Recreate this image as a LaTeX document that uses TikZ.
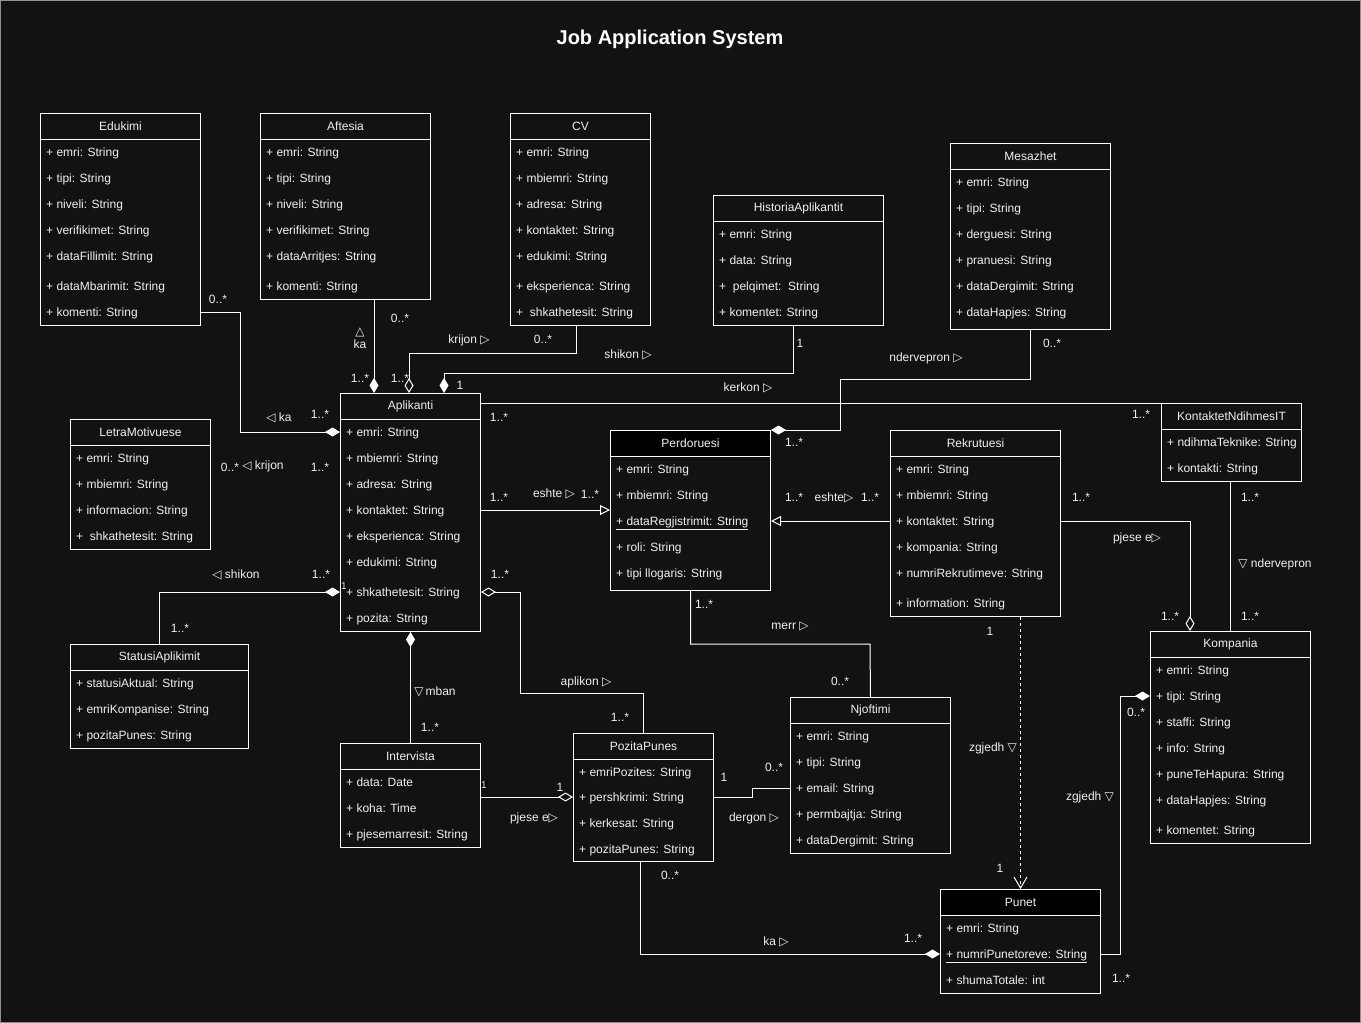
\documentclass[tikz,border=0pt]{standalone}
\usepackage{fontspec}
\setmainfont{Liberation Sans}
\newfontfamily\dejavu{DejaVu Sans}
\usetikzlibrary{arrows.meta}
\definecolor{bg}{HTML}{121212}
\definecolor{fg}{HTML}{F0F0F0}
\definecolor{frame}{HTML}{909090}
\newcommand{\TriR}{{\dejavu ▷}}
\newcommand{\TriL}{{\dejavu ◁}}
\newcommand{\TriU}{{\dejavu △}}
\newcommand{\TriD}{{\dejavu ▽}}
\newcommand{\umlclass}[7]{%
  \node[box,minimum width=#4pt,minimum height=#5pt] (#1) at (#2,#3) {};
  \node[hdr,fill=#7,minimum width=#4pt] (#1h) at (#2,#3) {#6};}
\newcommand{\attrs}[3]{%
  \foreach \yy/\txt [count=\i] in {#3} {\node[attr] (#1\i) at (#2,\yy) {\txt};}}
\begin{document}
\begin{tikzpicture}[x=1pt,y=-1pt,
  every node/.style={font=\fontsize{12}{14}\selectfont,text=fg},
  box/.style={draw=white,line width=1pt,fill=bg,inner sep=0pt,anchor=north west},
  hdr/.style={draw=white,line width=1pt,inner sep=0pt,minimum height=26pt,anchor=north west},
  attr/.style={anchor=west,inner sep=2pt,text height=9.6pt,text depth=1.6pt},
  lbl/.style={inner sep=1pt},
  blk/.style={fill=black,inner sep=0.6pt,font=\fontsize{10}{10}\selectfont},
  conn/.style={draw=white,line width=1pt},
  fdia/.tip={Diamond[length=15pt,width=9pt]},
  odia/.tip={Diamond[open,length=15pt,width=9pt]},
  gen/.tip={Triangle[open,length=10pt,width=10pt]},
  dep/.tip={Straight Barb[length=11pt,width=13pt]}]
\useasboundingbox (0,0) rectangle (1361,1023);
\fill[bg] (0,0) rectangle (1361,1023);
\draw[frame,line width=1pt] (0.5,0.5) rectangle (1360.5,1022.5);

\node[font=\bfseries\fontsize{20}{24}\selectfont,text=white] (title) at (670,39) {Job Application System};

% classes
\umlclass{edu}{40}{113}{160}{212}{Edukimi}{bg}
\attrs{edu}{44}{152/{+ emri: String},178/{+ tipi: String},204/{+ niveli: String},230/{+ verifikimet: String},256/{+ dataFillimit: String},286/{+ dataMbarimit: String},312/{+ komenti: String}}
\umlclass{aft}{260}{113}{170}{186}{Aftesia}{bg}
\attrs{aft}{264}{152/{+ emri: String},178/{+ tipi: String},204/{+ niveli: String},230/{+ verifikimet: String},256/{+ dataArritjes: String},286/{+ komenti: String}}
\umlclass{cv}{510}{113}{140}{212}{CV}{bg}
\attrs{cv}{514}{152/{+ emri: String},178/{+ mbiemri: String},204/{+ adresa: String},230/{+ kontaktet: String},256/{+ edukimi: String},286/{+ eksperienca: String},312/{+\ \ shkathetesit: String}}
\umlclass{his}{713}{195}{170}{130}{HistoriaAplikantit}{bg}
\attrs{his}{717}{234/{+ emri: String},260/{+ data: String},286/{+\ \ pelqimet:\ \ String},312/{+ komentet: String}}
\umlclass{mes}{950}{143}{160}{186}{Mesazhet}{bg}
\attrs{mes}{954}{182/{+ emri: String},208/{+ tipi: String},234/{+ derguesi: String},260/{+ pranuesi: String},286/{+ dataDergimit: String},312/{+ dataHapjes: String}}
\umlclass{apl}{340}{393}{140}{238}{Aplikanti}{bg}
\attrs{apl}{344}{432/{+ emri: String},458/{+ mbiemri: String},484/{+ adresa: String},510/{+ kontaktet: String},536/{+ eksperienca: String},562/{+ edukimi: String},592/{+ shkathetesit: String},618/{+ pozita: String}}
\umlclass{let}{70}{419}{140}{130}{LetraMotivuese}{bg}
\attrs{let}{74}{458/{+ emri: String},484/{+ mbiemri: String},510/{+ informacion: String},536/{+\ \ shkathetesit: String}}
\umlclass{sta}{70}{644}{178}{104}{StatusiAplikimit}{bg}
\attrs{sta}{74}{683/{+ statusiAktual: String},709/{+ emriKompanise: String},735/{+ pozitaPunes: String}}
\umlclass{per}{610}{430}{160}{160}{Perdoruesi}{black}
\attrs{per}{614}{469/{+ emri: String},495/{+ mbiemri: String},521/{\underline{+ dataRegjistrimit: String}},547/{+ roli: String},573/{+ tipi llogaris: String}}
\umlclass{rek}{890}{430}{170}{186}{Rekrutuesi}{bg}
\attrs{rek}{894}{469/{+ emri: String},495/{+ mbiemri: String},521/{+ kontaktet: String},547/{+ kompania: String},573/{+ numriRekrutimeve: String},603/{+ information: String}}
\umlclass{kon}{1161}{403}{140}{78}{KontaktetNdihmesIT}{bg}
\attrs{kon}{1165}{442/{+ ndihmaTeknike: String},468/{+ kontakti: String}}
\umlclass{kom}{1150}{631}{160}{212}{Kompania}{bg}
\attrs{kom}{1154}{670/{+ emri: String},696/{+ tipi: String},722/{+ staffi: String},748/{+ info: String},774/{+ puneTeHapura: String},800/{+ dataHapjes: String},830/{+ komentet: String}}
\umlclass{int}{340}{743}{140}{104}{Intervista}{bg}
\attrs{int}{344}{782/{+ data: Date},808/{+ koha: Time},834/{+ pjesemarresit: String}}
\umlclass{poz}{573}{733}{140}{128}{PozitaPunes}{bg}
\attrs{poz}{577}{772/{+ emriPozites: String},797/{+ pershkrimi: String},823/{+ kerkesat: String},849/{+ pozitaPunes: String}}
\umlclass{njo}{790}{697}{160}{156}{Njoftimi}{bg}
\attrs{njo}{794}{736/{+ emri: String},762/{+ tipi: String},788/{+ email: String},814/{+ permbajtja: String},840/{+ dataDergimit: String}}
\umlclass{pun}{940}{889}{160}{104}{Punet}{black}
\attrs{pun}{944}{928/{+ emri: String},954/{\underline{+ numriPunetoreve: String}},980/{+ shumaTotale: int}}

% bend coordinates
\coordinate (k1) at (240,432);
\coordinate (k2) at (374,0);
\coordinate (k3a) at (576,0);
\coordinate (k3b) at (409,353);
\coordinate (k4a) at (793,0);
\coordinate (k4b) at (444,373);
\coordinate (k5a) at (1030,0);
\coordinate (k5b) at (840,379);
\coordinate (k9) at (520,693);
\coordinate (k13) at (752,788);
\coordinate (k14) at (870,644);
\coordinate (k16) at (1190,0);
\coordinate (k18) at (640,0);
\coordinate (k19) at (1120,696);

% connectors
\draw[conn,-fdia] (edu.east |- edu7) -| (k1) -- (apl.west |- apl1);
\draw[conn,-fdia] (aft.south -| k2) -- (apl.north -| k2);
\draw[conn,-odia] (cv.south -| k3a) |- (k3b) -- (apl.north -| k3b);
\draw[conn,-fdia] (his.south -| k4a) |- (k4b) -- (apl.north -| k4b);
\draw[conn,-fdia] (mes.south -| k5a) |- (k5b) |- (per.north east);
\draw[conn] (apl.east |- kon.north) -- (kon.north west);
\draw[conn,-gen] (apl.east |- apl4) -- (per.west |- apl4);
\draw[conn,-gen] (rek.west |- rek3) -- (per.east |- rek3);
\draw[conn,odia-] (apl.east |- apl7) -| (k9) -| (poz.north);
\draw[conn,-fdia] (sta.north) |- (apl.west |- apl7);
\draw[conn,fdia-] (apl.south) -- (int.north);
\draw[conn,-odia] (int.east |- poz2) -- (poz.west |- poz2);
\draw[conn] (poz.east |- poz2) -| (k13) -- (njo.west |- njo3);
\draw[conn] (per.south) |- (k14) -- (njo.north);
\draw[conn,dashed,dash pattern=on 3pt off 3pt,-dep] (pun.north |- rek.south) -- (pun.north);
\draw[conn,-odia] (rek.east |- rek3) -| (kom.north -| k16);
\draw[conn] (kom.north |- kon.south) -- (kom.north);
\draw[conn,-fdia] (poz.south -| k18) |- (pun.west |- pun2);
\draw[conn,-fdia] (pun.east |- pun2) -| (k19) -- (kom.west |- kom2);

% labels
\node[lbl] (l1) at (218,299) {0..*};
\node[lbl] (l2) at (279,418) {\TriL\ ka};
\node[lbl] (l3) at (320,414) {1..*};
\node[lbl] (l4a) at (360,332) {\TriU};
\node[lbl] (l4b) at (360,344) {ka};
\node[lbl] (l5) at (400,318) {0..*};
\node[lbl] (l6) at (360,378) {1..*};
\node[lbl] (l7) at (400,378) {1..*};
\node[lbl] (l8) at (460,385) {1};
\node[lbl] (l9) at (469,340) {krijon \TriR};
\node[lbl] (l10) at (543,339) {0..*};
\node[lbl] (l11) at (628,355) {shikon \TriR};
\node[lbl] (l12) at (800,343) {1};
\node[lbl] (l13) at (748,388) {kerkon \TriR};
\node[lbl] (l14) at (926,358) {ndervepron \TriR};
\node[lbl] (l15) at (1052,343) {0..*};
\node[lbl] (l16) at (794,442) {1..*};
\node[lbl] (l17) at (499,417) {1..*};
\node[lbl] (l18) at (1141,414) {1..*};
\node[lbl] (l19) at (499,497) {1..*};
\node[lbl] (l20) at (554,494) {eshte \TriR};
\node[lbl] (l21) at (590,494) {1..*};
\node[lbl] (l22) at (794,497) {1..*};
\node[lbl] (l23) at (834,498) {eshte\TriR};
\node[lbl] (l24) at (870,497) {1..*};
\node[lbl] (l25) at (500,574) {1..*};
\node[lbl] (l26) at (704,604) {1..*};
\node[lbl] (l27) at (1081,497) {1..*};
\node[lbl] (l28) at (1137,538) {pjese e\TriR};
\node[lbl] (l29) at (1170,616) {1..*};
\node[lbl] (l30) at (1250,497) {1..*};
\node[lbl] (l31) at (1275,564) {\TriD\ ndervepron};
\node[lbl] (l32) at (1250,616) {1..*};
\node[lbl] (l33) at (990,631) {1};
\node[lbl] (l34) at (236,575) {\TriL\ shikon};
\node[lbl] (l35) at (321,574) {1..*};
\node[blk] (l36) at (344,586) {1};
\node[lbl] (l37) at (180,628) {1..*};
\node[lbl] (l38) at (230,467) {0..*};
\node[lbl] (l39) at (263,466) {\TriL\ krijon};
\node[lbl] (l40) at (320,467) {1..*};
\node[lbl] (l41) at (435,692) {\TriD\,mban};
\node[lbl] (l42) at (430,727) {1..*};
\node[lbl] (l43) at (586,682) {aplikon \TriR};
\node[lbl] (l44) at (620,717) {1..*};
\node[blk] (l45) at (484,785) {1};
\node[lbl] (l46) at (560,787) {1};
\node[lbl] (l47) at (534,818) {pjese e\TriR};
\node[lbl] (l48) at (724,777) {1};
\node[lbl] (l49) at (774,767) {0..*};
\node[lbl] (l50) at (754,818) {dergon \TriR};
\node[lbl] (l51) at (790,626) {merr \TriR};
\node[lbl] (l52) at (840,681) {0..*};
\node[lbl] (l53) at (993,748) {zgjedh \TriD};
\node[lbl] (l54) at (1000,868) {1};
\node[lbl] (l55) at (1136,712) {0..*};
\node[lbl] (l56) at (1090,797) {zgjedh \TriD};
\node[lbl] (l57) at (1121,978) {1..*};
\node[lbl] (l58) at (670,875) {0..*};
\node[lbl] (l59) at (776,942) {ka \TriR};
\node[lbl] (l60) at (913,938) {1..*};
\end{tikzpicture}
\end{document}
